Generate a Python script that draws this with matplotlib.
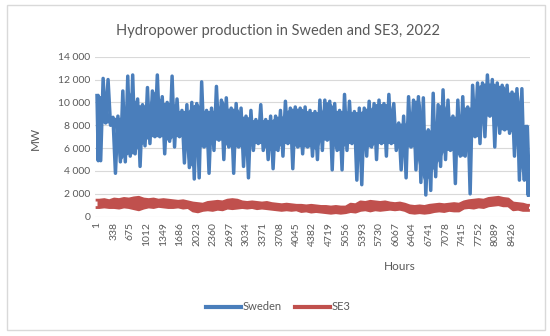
import numpy as np
import matplotlib.pyplot as plt
from matplotlib.patches import Rectangle

plt.rcParams['font.family'] = ['Lato', 'DejaVu Sans']

# Values: local peak / trough per 100-hour block (MW)
block_start = np.arange(0, 8760, 100)

sweden_hi = [10600, 12100, 12000, 8700, 8800, 11000, 12300, 12400, 10300, 9800,
             11300, 11000, 12400, 10500, 10000, 12300, 10300, 9300, 9800, 10000,
             9900, 11800, 9300, 9500, 11400, 10200, 10400, 9500, 9900, 9500,
             8800, 9300, 8500, 9800, 8500, 8800, 8800, 9300, 10100, 9500,
             9600, 9500, 9600, 9300, 9200, 10200, 10200, 10100, 9900, 9300,
             10700, 10100, 9200, 9500, 9500, 10100, 9900, 10200, 9900, 10700,
             9900, 8200, 8800, 10500, 10200, 10500, 10400, 7600, 10800, 9800,
             11100, 10200, 8800, 10200, 10500, 9600, 11500, 11700, 11700, 12400,
             12000, 11700, 11500, 11500, 10900, 11200, 11200, 7900]
sweden_lo = [4900, 8200, 8000, 3800, 4800, 4800, 5300, 5500, 4400, 6200,
             6400, 7000, 7000, 5500, 6600, 6100, 7000, 4700, 4300, 3300,
             3400, 6100, 3800, 5800, 6700, 5000, 6100, 3800, 6100, 4400,
             3400, 5800, 6400, 5800, 5000, 4200, 5800, 5300, 6400, 4200,
             6100, 5500, 6100, 5300, 5000, 5800, 6700, 4100, 5800, 4100,
             5800, 6400, 3200, 2800, 5300, 6100, 5000, 6400, 5300, 6400,
             5800, 4100, 3400, 6100, 4100, 3000, 1900, 2300, 3500, 4400,
             5000, 5800, 2900, 5300, 5300, 2000, 7000, 6400, 7000, 8800,
             6100, 7300, 7600, 7300, 5300, 3200, 3200, 1900]

se3_hi = [1450, 1500, 1400, 1550, 1500, 1600, 1550, 1650, 1700, 1550,
          1500, 1550, 1450, 1500, 1450, 1400, 1350, 1400, 1300, 1200,
          1150, 1100, 1250, 1300, 1350, 1300, 1450, 1500, 1450, 1300,
          1250, 1300, 1250, 1200, 1250, 1150, 1100, 1050, 1100, 1050,
          1000, 1000, 950, 1000, 950, 900, 900, 850, 900, 850,
          850, 1100, 1050, 1300, 1250, 1350, 1300, 1250, 1300, 1200,
          1150, 1200, 1100, 950, 900, 950, 900, 1000, 1050, 1100,
          1050, 1100, 1150, 1100, 1300, 1400, 1450, 1500, 1450, 1600,
          1650, 1700, 1600, 1550, 1200, 1150, 1100, 1000]
se3_lo = [800, 850, 800, 800, 750, 850, 800, 700, 600, 750,
          850, 800, 900, 850, 800, 800, 850, 750, 800, 500,
          420, 550, 600, 550, 650, 600, 750, 700, 750, 800,
          750, 800, 700, 750, 700, 650, 600, 550, 600, 550,
          600, 450, 500, 400, 450, 400, 350, 300, 350, 300,
          350, 450, 400, 550, 600, 500, 600, 550, 600, 650,
          600, 650, 550, 350, 300, 350, 300, 350, 450, 500,
          450, 550, 500, 500, 750, 800, 750, 850, 800, 950,
          1000, 1050, 950, 950, 600, 650, 550, 550]

tick_hours = list(range(1, 8760, 337))

fig = plt.figure(figsize=(5.5, 3.36), dpi=100)
fig.patches.append(Rectangle((7 / 550, 1 - 330 / 336), 538 / 550, 325 / 336,
                             transform=fig.transFigure, fill=False,
                             edgecolor='#D9D9D9', linewidth=1))

ax = fig.add_axes([95 / 550, 1 - 216.7 / 336, 435 / 550, 160 / 336])

x_mid = np.concatenate([[1], block_start + 50, [8760]])
x_mid[-2] = min(x_mid[-2], 8730)


def pad(v):
    v = np.asarray(v)
    return np.concatenate([[v[0]], v, [v[-1]]])


def draw_series(hi, lo, color, label, spikes):
    hi, lo = pad(hi), pad(lo)
    if spikes:
        # dense core where neighbouring blocks overlap, single peaks stick out
        core_hi = np.minimum.reduce([np.roll(hi, 1), hi, np.roll(hi, -1)])
        core_lo = np.maximum.reduce([np.roll(lo, 1), lo, np.roll(lo, -1)])
        core_hi[[0, -1]] = hi[[0, -1]]
        core_lo[[0, -1]] = lo[[0, -1]]
        ax.fill_between(x_mid, core_lo, core_hi, color=color, linewidth=0, zorder=3)
        xz = np.column_stack([x_mid - 25, x_mid + 25]).ravel()
        yz = np.column_stack([hi, lo]).ravel()
        xz = np.clip(xz, 1, 8760)
        ax.plot(xz, yz, color=color, linewidth=2.5, zorder=3, label=label)
    else:
        ax.fill_between(x_mid, lo, hi, color=color, linewidth=0, zorder=3)
        ax.plot(x_mid, hi, color=color, linewidth=2.0, zorder=3, label=label)
        ax.plot(x_mid, lo, color=color, linewidth=2.0, zorder=3)


draw_series(sweden_hi, sweden_lo, '#4A7EBB', 'Sweden', True)
draw_series(se3_hi, se3_lo, '#C0504D', 'SE3', False)

ax.set_xlim(-40, 8790)
ax.set_ylim(0, 14000)
ax.set_yticks(range(0, 14001, 2000))
ax.set_yticklabels([f"{v:,}".replace(',', ' ') for v in range(0, 14001, 2000)])
ax.set_xticks(tick_hours)
ax.set_xticklabels([str(h) for h in tick_hours], rotation=90)
ax.tick_params(axis='both', length=0, labelsize=7.5, colors='#595959')
ax.tick_params(axis='x', pad=4)
ax.grid(axis='y', color='#D9D9D9', linewidth=0.8)
ax.set_axisbelow(True)
for s in ax.spines.values():
    s.set_visible(False)

fig.text(278 / 550, 1 - 31 / 336, 'Hydropower production in Sweden and SE3, 2022',
         ha='center', va='center', fontsize=10.5, color='#595959')
fig.text(35 / 550, 1 - 138 / 336, 'MW', rotation=90, ha='center', va='center',
         fontsize=8.5, color='#595959')
fig.text(400 / 550, 1 - 267 / 336, 'Hours', ha='center', va='center',
         fontsize=8.5, color='#595959')

leg = fig.legend(loc='center', bbox_to_anchor=(278 / 550, 1 - 307 / 336), ncol=2,
                 frameon=False, fontsize=8, handlelength=3.2, handletextpad=0.1,
                 columnspacing=1.2, labelcolor='#595959')
for line in leg.get_lines():
    line.set_linewidth(3)

fig.savefig('out.png', dpi=100)
